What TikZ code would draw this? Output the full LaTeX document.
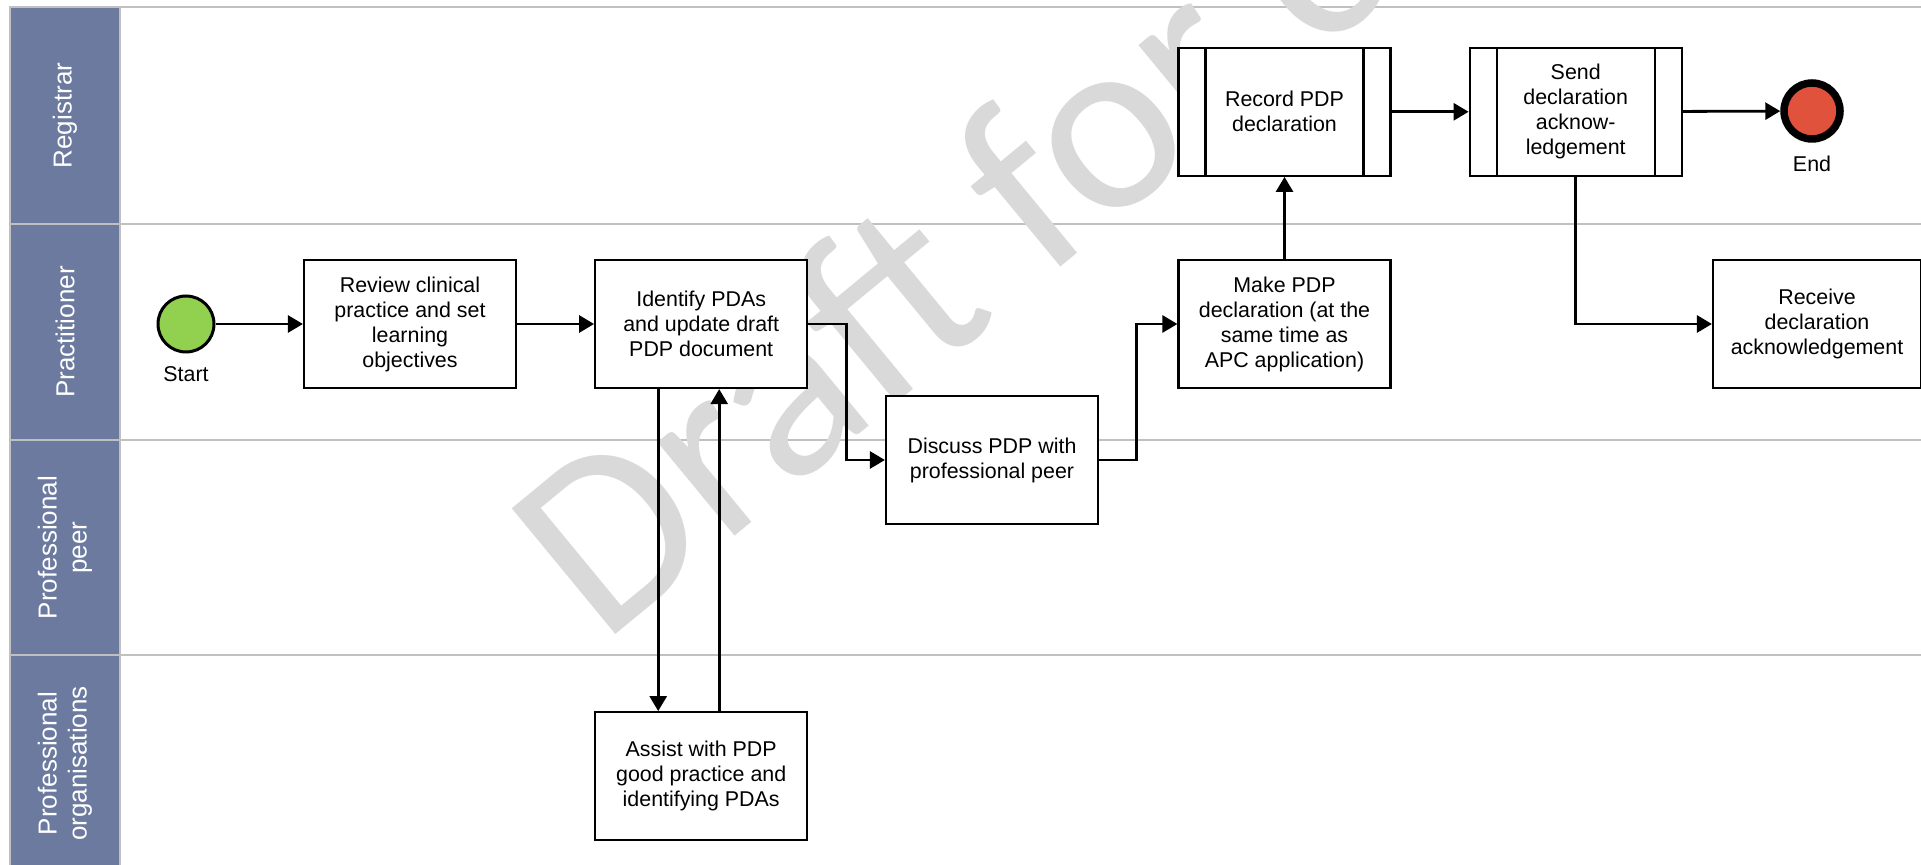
\documentclass[tikz,border=0pt]{standalone}
\usepackage{fontspec}
\setmainfont{Liberation Sans}
\newfontfamily\markfont{Carlito}
\usetikzlibrary{arrows.meta,positioning}
\definecolor{pdpSlate}{HTML}{6B7A9E}
\definecolor{pdpLine}{HTML}{C0C0C0}
\definecolor{pdpMark}{HTML}{D9D9D9}
\definecolor{pdpGreen}{HTML}{92D050}
\definecolor{pdpRed}{HTML}{E0523C}

\begin{document}
\begin{tikzpicture}[x=0.5pt,y=-0.5pt,
   font=\fontsize{10.7}{12.5}\selectfont,
   task/.style={draw,line width=1.1pt,fill=white,minimum width=106pt,
                minimum height=64pt,inner sep=2pt,align=center},
   sub/.style={task,path picture={
       \draw[line width=1.1pt] ([xshift=13.5pt]path picture bounding box.north west)
         -- ([xshift=13.5pt]path picture bounding box.south west);
       \draw[line width=1.1pt] ([xshift=-13.5pt]path picture bounding box.north east)
         -- ([xshift=-13.5pt]path picture bounding box.south east);}},
   event/.style={circle,draw,minimum size=28pt,inner sep=0pt},
   flow/.style={line width=1.4pt,-{Triangle[length=7.5pt,width=8.5pt]}},
   lane/.style={draw=pdpLine,line width=1pt},
   head/.style={text=white,rotate=90,align=center,
                font=\fontsize{13}{15}\selectfont}]
  \useasboundingbox (0,0) rectangle (1921,865);
  \foreach \y/\z/\t in {7/224/Registrar,224/440/Practitioner,
      440/655/{Professional\\peer},655/872/{Professional\\organisations}}{
    \draw[lane,fill=pdpSlate] (10,\y) rectangle (120,\z);
    \draw[lane] (120,\y) -- (1921,\y);
    \node[head] (h\y) at (65,{(\y+\z)/2}) {\t};
  }
  \begin{scope}
    \clip (0,0) rectangle (1921,865);
    \node[text=pdpMark,font=\markfont\fontsize{127}{127}\selectfont,rotate=39.5,
          anchor=base west,inner sep=0pt] (wm) at (602,646) {Draft for c};
  \end{scope}

  \node[event,fill=pdpGreen,line width=1.5pt,
        label={[label distance=3pt]below:Start}] (s) at (186,324) {};
  \node[task] (a) at (410,324) {Review clinical\\practice and set\\learning\\objectives};
  \node[task,right=38.5pt of a] (b) {Identify PDAs\\and update draft\\PDP document};
  \node[task] (c) at (992,460) {Discuss PDP with\\professional peer};
  \node[task] (d) at (1284.5,324) {Make PDP\\declaration (at the\\same time as\\APC application)};
  \node[sub,above=41pt of d] (e) {Record PDP\\declaration};
  \node[sub,right=38.5pt of e] (f) {Send\\declaration\\acknow-\\ledgement};
  \node[event,fill=pdpRed,line width=3.75pt,
        label={[label distance=3pt]below:End}] (g) at (1812,111) {};
  \node[task,minimum width=104pt] (h) at (1817,324) {Receive\\declaration\\acknowledgement};
  \node[task,below=161pt of b] (k) {Assist with PDP\\good practice and\\identifying PDAs};

  \draw[flow] (s) -- (a);
  \draw[flow] (a) -- (b);
  \draw[flow] (b.east) -- ++(38,0) |- (c.west);
  \draw[flow] (c.east) -- ++(37,0) |- (d.west);
  \draw[flow] (d) -- (e);
  \draw[flow] (e) -- (f);
  \draw[flow] (f) -- (g);
  \draw[flow] (f) |- (h);
  \draw[flow] ([xshift=-21.5pt]b.south) -- ([xshift=-21.5pt]b.south |- k.north);
  \draw[flow] ([xshift=9pt]k.north) -- ([xshift=9pt]k.north |- b.south);
\end{tikzpicture}
\end{document}
